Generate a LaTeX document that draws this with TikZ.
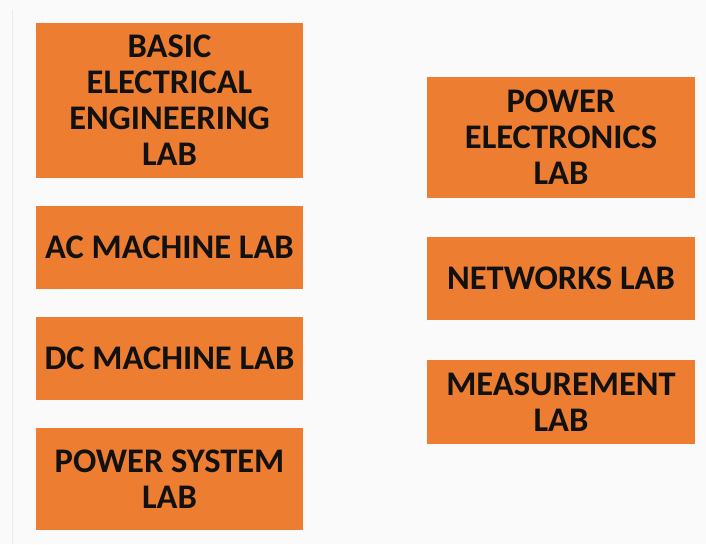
\documentclass[tikz,border=0pt]{standalone}
\usepackage{fontspec}
\setmainfont{Carlito}
\definecolor{boxorange}{HTML}{ED7D31}
\definecolor{bg}{HTML}{FAFAFA}
\definecolor{txt}{HTML}{111111}
\begin{document}
\begin{tikzpicture}[x=1pt,y=-1pt,
  labbox/.style={fill=boxorange, draw=none, inner sep=0pt, align=center,
    text=txt, font=\bfseries\fontsize{34.5}{36}\selectfont}]
\fill[bg] (0,0) rectangle (706,544);
\useasboundingbox (0,0) rectangle (706,544);
\draw[black!8, line width=0.8pt] (12,10) -- (12,544);
\node[labbox, minimum width=267pt, minimum height=155pt] (bee) at (169.5,100.5) {BASIC\\ELECTRICAL\\ENGINEERING\\LAB};
\node[labbox, minimum width=267pt, minimum height=83pt] (ac) at (169.5,247.5) {AC MACHINE LAB};
\node[labbox, minimum width=267pt, minimum height=83pt] (dc) at (169.5,358.5) {DC MACHINE LAB};
\node[labbox, minimum width=267pt, minimum height=102pt] (ps) at (169.5,479) {POWER SYSTEM\\LAB};
\node[labbox, minimum width=268pt, minimum height=121pt] (pe) at (561,137.5) {POWER\\ELECTRONICS\\LAB};
\node[labbox, minimum width=268pt, minimum height=83pt] (nw) at (561,278.5) {NETWORKS LAB};
\node[labbox, minimum width=268pt, minimum height=84pt] (ms) at (561,402) {MEASUREMENT\\LAB};
\end{tikzpicture}
\end{document}
